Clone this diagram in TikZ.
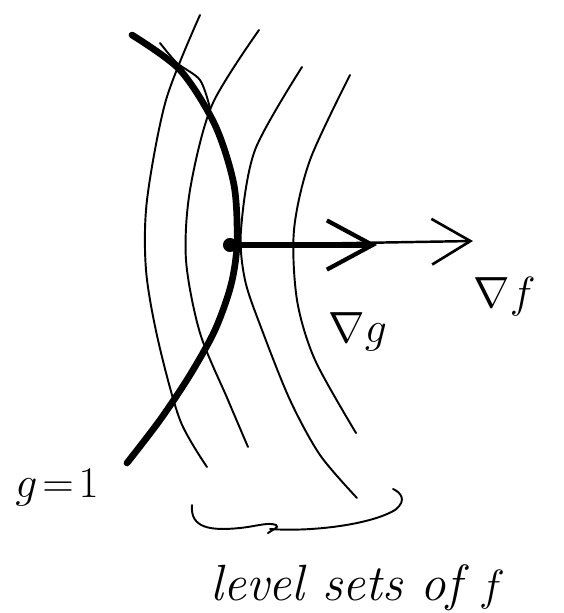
\documentclass[tikz,border=0pt]{standalone}
\usepackage{amsmath,amssymb}
\usepackage{tikz}
\usetikzlibrary{arrows.meta}

\begin{document}
\begin{tikzpicture}[x=0.02cm, y=-0.02cm,
    lvl/.style={line width=1.1pt, line cap=round},
    cstr/.style={line width=3.8pt, line cap=round, line join=round},
    gradg/.style={line width=3.8pt, -{Straight Barb[length=26pt, width=28pt, line width=2.4pt]}},
    gradf/.style={line width=1.4pt, -{Straight Barb[length=22pt, width=26pt, line width=1.5pt]}},
    lbl/.style={inner sep=0pt, anchor=base west, font=\fontsize{32}{36}\selectfont},
    dot/.style={circle, fill, inner sep=0pt, minimum size=8pt},
    brc/.style={line width=1.1pt, line cap=round}
  ]
  \useasboundingbox (0,0) rectangle (564,613);

  % level sets of f
  \draw[lvl] plot[smooth] coordinates {(200,15) (166,100) (147,200) (146,270) (158,340) (180,420) (207,467)};
  \draw[lvl] plot[smooth] coordinates {(259,30) (212,105) (190,190) (186,260) (200,333) (228,400) (248,447)};
  \draw[lvl] plot[smooth] coordinates {(302,67) (255,150) (241,230) (245,280) (262,330) (290,400) (320,455) (357,498)};
  \draw[lvl] plot[smooth] coordinates {(350,75) (310,160) (294,230) (297,300) (315,360) (356,433)};

  % constraint curve g=1
  \draw[cstr] plot[smooth] coordinates {(132,35) (180,70) (215,125) (234,185) (237,243) (231,285) (215,330) (190,375) (160,420) (127,463)};
  \draw[lvl] plot[smooth] coordinates {(160,43) (177,63) (200,80) (210,108)};

  \coordinate (P) at (237,245);
  \coordinate (gtip) at (377,245);
  \coordinate (ftip) at (473,241);
  \node[dot] (pt) at (230,245) {};

  \draw[gradf] (P) -- (ftip);
  \draw[gradg] (P) -- (gtip);

  \node[lbl] (gradgl) at (328,342) {$\nabla g$};
  \node[lbl] (gradfl) at (473,307) {$\nabla f$};
  \node[lbl, font=\fontsize{31}{34}\selectfont] (gone) at (15,497) {$g\!=\!1$};

  % brace under the level sets
  \draw[brc] (192,505) .. controls (190,528) and (210,531) .. (240,528) .. controls (258,526) and (268,522) .. (276,525) .. controls (280,527) and (272,530) .. (268,533);
  \draw[brc] (270,529) .. controls (310,532) and (370,525) .. (395,510) .. controls (408,500) and (400,492) .. (393,489);
  \node[lbl, font=\fontsize{29}{32}\selectfont\itshape] (lvlsets) at (210,600) {level sets of $f$};
\end{tikzpicture}
\end{document}
